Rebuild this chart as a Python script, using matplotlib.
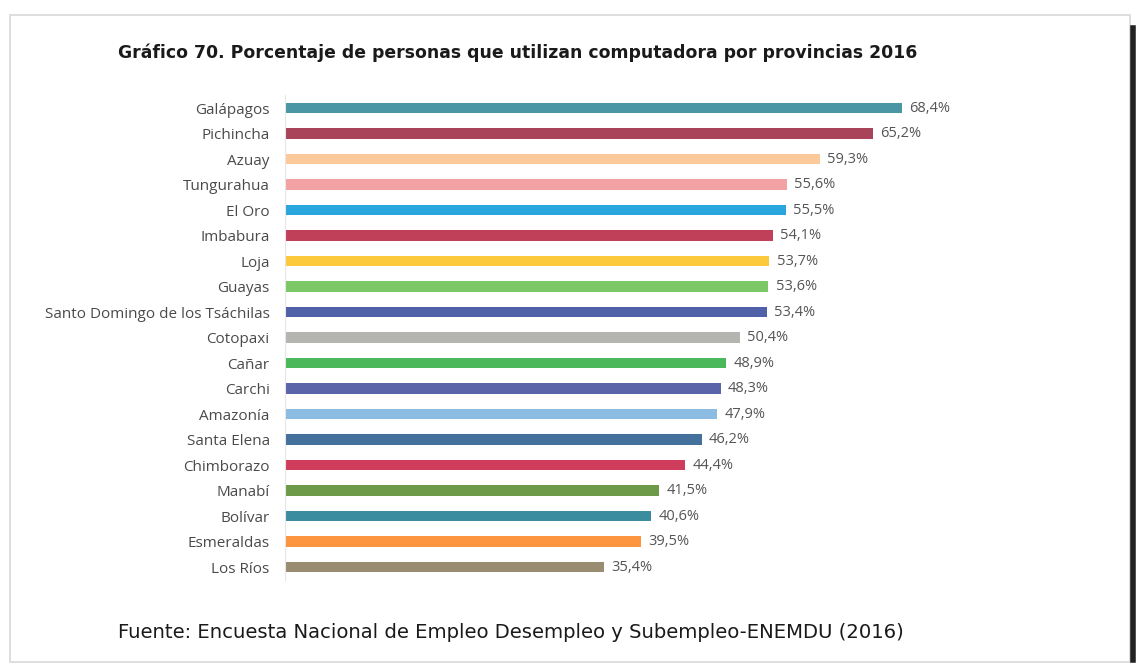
import matplotlib.pyplot as plt
from matplotlib.patches import Rectangle
from matplotlib.lines import Line2D

# ---------------------------------
# Data
# ---------------------------------
provincias = [
    "Galápagos", "Pichincha", "Azuay", "Tungurahua", "El Oro", "Imbabura",
    "Loja", "Guayas", "Santo Domingo de los Tsáchilas", "Cotopaxi", "Cañar",
    "Carchi", "Amazonía", "Santa Elena", "Chimborazo", "Manabí", "Bolívar",
    "Esmeraldas", "Los Ríos",
]
porcentajes = [
    68.4, 65.2, 59.3, 55.6, 55.5, 54.1, 53.7, 53.6, 53.4, 50.4, 48.9,
    48.3, 47.9, 46.2, 44.4, 41.5, 40.6, 39.5, 35.4,
]
colores = [
    "#4a96a4", "#a8435a", "#fcc99a", "#f2a2a2", "#2aa6df", "#c0405a",
    "#fcc83c", "#7cc866", "#5060a8", "#b4b4b0", "#4cb85c", "#5a64a8",
    "#8cbce2", "#44709c", "#d03c5c", "#6c9a48", "#3c8ca0", "#fc9440",
    "#9a8c70",
]

titulo = "Gráfico 70. Porcentaje de personas que utilizan computadora por provincias 2016"
fuente = "Fuente: Encuesta Nacional de Empleo Desempleo y Subempleo-ENEMDU (2016)"

# ---------------------------------
# Figure
# ---------------------------------
W, H = 1142, 670
fig = plt.figure(figsize=(W / 100, H / 100), dpi=100)
fig.patch.set_facecolor("white")

# page frame (scanned box look)
fig.add_artist(Rectangle((10 / W, 8 / H), 1120 / W, (H - 23) / H,
                         transform=fig.transFigure, fill=False,
                         edgecolor="#d8d8d8", linewidth=1.2))
fig.add_artist(Line2D([1133 / W, 1133 / W], [10 / H, (H - 28) / H],
                      transform=fig.transFigure, color="#222222", linewidth=4))

# axes: x from 285 px, 9.02 px per unit; rows from y=108 to y=567
x0 = 285
xmax_units = 95
ax_w = xmax_units * 9.02
n = len(provincias)
step = (567 - 108) / (n - 1)
top_px = 108 - step / 2
bot_px = 567 + step / 2
ax = fig.add_axes([x0 / W, (H - bot_px) / H, ax_w / W, (bot_px - top_px) / H])

y = list(range(n))
ax.barh(y, porcentajes, height=0.42, color=colores, edgecolor="none")
ax.set_xlim(0, xmax_units)
ax.set_ylim(n - 0.5, -0.5)

for yi, v in zip(y, porcentajes):
    ax.text(v + 0.8, yi, f"{v:.1f}%".replace(".", ","), va="center", ha="left",
            fontsize=10.5, color="#555555", family="Open Sans")

ax.set_yticks(y)
ax.set_yticklabels(provincias, fontsize=11, color="#4a4a4a", family="Open Sans")
ax.tick_params(axis="y", length=0, pad=11)
ax.set_xticks([])
for side in ["top", "right", "bottom"]:
    ax.spines[side].set_visible(False)
ax.spines["left"].set_color("#e6e6e6")
ax.spines["left"].set_linewidth(0.8)

fig.text(118 / W, 1 - 53 / H, titulo, fontsize=12.4, fontweight="bold",
         color="#1a1a1a", va="center", ha="left", family="DejaVu Sans")
fig.text(118 / W, 1 - 633 / H, fuente, fontsize=14.1, color="#1a1a1a",
         va="center", ha="left", family="DejaVu Sans")

plt.savefig("out.png", dpi=100)
plt.close()
